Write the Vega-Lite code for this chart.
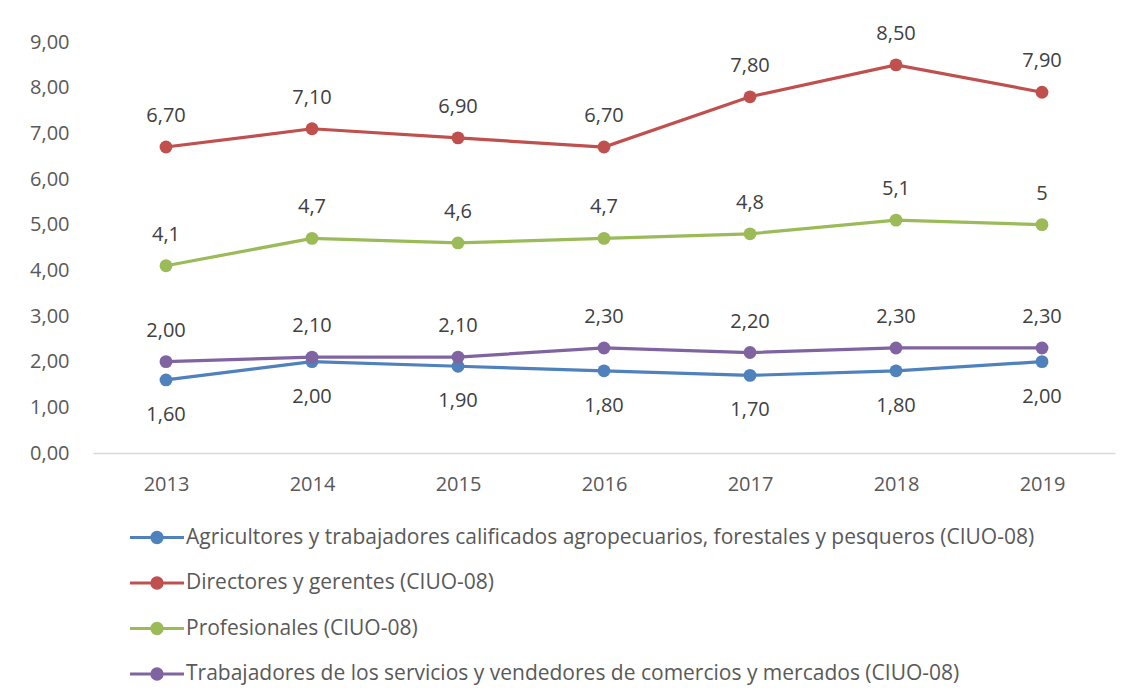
{
  "$schema": "https://vega.github.io/schema/vega-lite/v6.json",
  "width": 1022,
  "height": 411,
  "autosize": "none",
  "padding": {"left": 93, "top": 42, "right": 18, "bottom": 247},
  "background": "white",
  "config": {
    "view": {"stroke": null},
    "font": "Open Sans",
    "locale": {"number": {"decimal": ",", "thousands": ".", "grouping": [3], "currency": ["", " €"]}}
  },
  "data": {
    "values": [
      {"year": "2013", "series": "Agricultores y  trabajadores calificados agropecuarios, forestales y pesqueros (CIUO-08)", "value": 1.6},
      {"year": "2014", "series": "Agricultores y  trabajadores calificados agropecuarios, forestales y pesqueros (CIUO-08)", "value": 2.0},
      {"year": "2015", "series": "Agricultores y  trabajadores calificados agropecuarios, forestales y pesqueros (CIUO-08)", "value": 1.9},
      {"year": "2016", "series": "Agricultores y  trabajadores calificados agropecuarios, forestales y pesqueros (CIUO-08)", "value": 1.8},
      {"year": "2017", "series": "Agricultores y  trabajadores calificados agropecuarios, forestales y pesqueros (CIUO-08)", "value": 1.7},
      {"year": "2018", "series": "Agricultores y  trabajadores calificados agropecuarios, forestales y pesqueros (CIUO-08)", "value": 1.8},
      {"year": "2019", "series": "Agricultores y  trabajadores calificados agropecuarios, forestales y pesqueros (CIUO-08)", "value": 2.0},
      {"year": "2013", "series": "Directores y gerentes (CIUO-08)", "value": 6.7},
      {"year": "2014", "series": "Directores y gerentes (CIUO-08)", "value": 7.1},
      {"year": "2015", "series": "Directores y gerentes (CIUO-08)", "value": 6.9},
      {"year": "2016", "series": "Directores y gerentes (CIUO-08)", "value": 6.7},
      {"year": "2017", "series": "Directores y gerentes (CIUO-08)", "value": 7.8},
      {"year": "2018", "series": "Directores y gerentes (CIUO-08)", "value": 8.5},
      {"year": "2019", "series": "Directores y gerentes (CIUO-08)", "value": 7.9},
      {"year": "2013", "series": "Profesionales (CIUO-08)", "value": 4.1},
      {"year": "2014", "series": "Profesionales (CIUO-08)", "value": 4.7},
      {"year": "2015", "series": "Profesionales (CIUO-08)", "value": 4.6},
      {"year": "2016", "series": "Profesionales (CIUO-08)", "value": 4.7},
      {"year": "2017", "series": "Profesionales (CIUO-08)", "value": 4.8},
      {"year": "2018", "series": "Profesionales (CIUO-08)", "value": 5.1},
      {"year": "2019", "series": "Profesionales (CIUO-08)", "value": 5.0},
      {"year": "2013", "series": "Trabajadores de los servicios y vendedores de comercios y mercados (CIUO-08)", "value": 2.0},
      {"year": "2014", "series": "Trabajadores de los servicios y vendedores de comercios y mercados (CIUO-08)", "value": 2.1},
      {"year": "2015", "series": "Trabajadores de los servicios y vendedores de comercios y mercados (CIUO-08)", "value": 2.1},
      {"year": "2016", "series": "Trabajadores de los servicios y vendedores de comercios y mercados (CIUO-08)", "value": 2.3},
      {"year": "2017", "series": "Trabajadores de los servicios y vendedores de comercios y mercados (CIUO-08)", "value": 2.2},
      {"year": "2018", "series": "Trabajadores de los servicios y vendedores de comercios y mercados (CIUO-08)", "value": 2.3},
      {"year": "2019", "series": "Trabajadores de los servicios y vendedores de comercios y mercados (CIUO-08)", "value": 2.3}
    ]
  },
  "encoding": {
    "x": {
      "field": "year", "type": "ordinal",
      "scale": {"type": "point", "padding": 0.5},
      "axis": {"title": null, "labelAngle": 0, "labelFontSize": 20, "labelColor": "#595959", "labelPadding": 21, "ticks": false, "tickSize": 0, "domainColor": "#D9D9D9", "domainWidth": 1.5, "grid": false}
    },
    "y": {
      "field": "value", "type": "quantitative",
      "scale": {"domain": [0, 9], "nice": false, "zero": true},
      "axis": {"title": null, "values": [0,1,2,3,4,5,6,7,8,9], "format": ".2f", "labelFontSize": 20, "labelColor": "#595959", "labelPadding": 24, "ticks": false, "tickSize": 0, "domain": false, "grid": false}
    }
  },
  "layer": [
    {
      "mark": {"type": "line", "strokeWidth": 3.2},
      "encoding": {
        "color": {
          "field": "series", "type": "nominal",
          "scale": {
            "domain": [
              "Agricultores y  trabajadores calificados agropecuarios, forestales y pesqueros (CIUO-08)",
              "Directores y gerentes (CIUO-08)",
              "Profesionales (CIUO-08)",
              "Trabajadores de los servicios y vendedores de comercios y mercados (CIUO-08)"
            ],
            "range": ["#4F81BD", "#C0504D", "#9BBB59", "#8064A2"]
          },
          "legend": {
            "title": null,
            "orient": "none",
            "legendX": 53.5,
            "legendY": 485,
            "direction": "vertical",
            "symbolType": "M-4.15,0L4.15,0M-0.8,0A0.8,0.8,0,1,1,0.8,0A0.8,0.8,0,1,1,-0.8,0Z",
            "symbolSize": 169,
            "symbolStrokeWidth": 3,
            "labelFontSize": 21,
            "labelColor": "#595959",
            "labelLimit": 2000,
            "labelOffset": 18.5,
            "rowPadding": 22.5,
            "encode": {
              "symbols": {"update": {
                "fill": {"scale": "color", "field": "value"},
                "stroke": {"scale": "color", "field": "value"},
                "opacity": {"value": 1}
              }}
            }
          }
        }
      }
    },
    {
      "mark": {"type": "point", "filled": true, "size": 165, "opacity": 1},
      "encoding": {
        "color": {"field": "series", "type": "nominal"}
      }
    },
    {
      "transform": [{"filter": "datum.series === 'Directores y gerentes (CIUO-08)' || datum.series === 'Trabajadores de los servicios y vendedores de comercios y mercados (CIUO-08)'"}],
      "mark": {"type": "text", "dy": -31, "fontSize": 20, "color": "#404040"},
      "encoding": {"text": {"field": "value", "type": "quantitative", "format": ".2f"}}
    },
    {
      "transform": [{"filter": "datum.series === 'Profesionales (CIUO-08)'"}],
      "mark": {"type": "text", "dy": -31, "fontSize": 20, "color": "#404040"},
      "encoding": {"text": {"field": "value", "type": "quantitative", "format": ".2~f"}}
    },
    {
      "transform": [{"filter": "datum.series === 'Agricultores y  trabajadores calificados agropecuarios, forestales y pesqueros (CIUO-08)'"}],
      "mark": {"type": "text", "dy": 35, "fontSize": 20, "color": "#404040"},
      "encoding": {"text": {"field": "value", "type": "quantitative", "format": ".2f"}}
    }
  ]
}
